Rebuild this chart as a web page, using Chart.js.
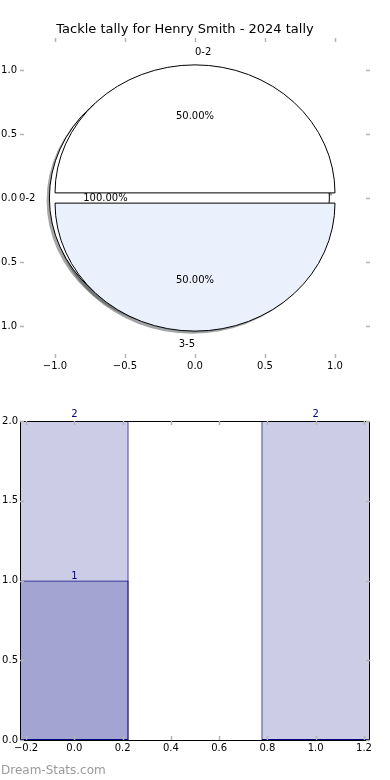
<!DOCTYPE html>
<html>
<head>
<meta charset="utf-8">
<script src="https://cdn.jsdelivr.net/npm/chart.js@4.4.0/dist/chart.umd.min.js"></script>
<style>
  html, body { margin: 0; padding: 0; background: #fff; }
  body { width: 390px; height: 780px; position: relative; overflow: hidden; }
  canvas { position: absolute; left: 0; }
  #pizza { top: 0; }
  #barras { top: 390px; }
  #marca { position: absolute; left: 1px; top: 763px; font: 12px "DejaVu Sans"; color: #9a9a9a; }
</style>
</head>
<body>
<canvas id="pizza" width="390" height="390"></canvas>
<canvas id="barras" width="390" height="390"></canvas>
<div id="marca">Dream-Stats.com</div>
<script>
const titulo = 'Tackle tally for Henry Smith - 2024 tally';

// pizza de trás (100%) e pizza da frente
const fundoLabels = ['0-2'];
const fundoValores = [1];
const fundoCores = ['#ffffff'];
const pizzaLabels = ['0-2', '3-5'];
const pizzaValores = [1, 1];
const pizzaCores = ['#ffffff', '#eaf0fc'];
const pizzaTicks = [-1, -0.5, 0, 0.5, 1];

// barras de baixo
const barrasX = [0, 1];
const barrasTotal = [2, 2];
const barrasPrimeiro = [1, 0];
const barrasTicksX = [-0.2, 0, 0.2, 0.4, 0.6, 0.8, 1.0, 1.2];
const barrasTicksY = [0, 0.5, 1, 1.5, 2];

const larguraBarra = 0.45;
const passoX = 0.2;

Chart.defaults.font.family = '"DejaVu Sans"';
Chart.defaults.font.size = 10;
Chart.defaults.color = '#000';

function formato(v) {
  return (v < 0 ? '\u2212' : '') + Math.abs(v).toFixed(1);
}

// marcas de tick para dentro, nos quatro lados
function marcasInternas(cor) {
  return {
    id: 'marcasInternas',
    afterDatasetsDraw(chart) {
      const { ctx, chartArea: a, scales: { x, y } } = chart;
      ctx.save();
      ctx.strokeStyle = cor;
      ctx.lineWidth = 1.5;
      ctx.beginPath();
      x.ticks.forEach(t => {
        const px = Math.round(x.getPixelForValue(t.value)) + 0.5;
        ctx.moveTo(px, a.top); ctx.lineTo(px, a.top + 4);
        ctx.moveTo(px, a.bottom); ctx.lineTo(px, a.bottom - 4);
      });
      y.ticks.forEach(t => {
        const py = Math.round(y.getPixelForValue(t.value)) + 0.5;
        ctx.moveTo(a.left, py); ctx.lineTo(a.left + 4, py);
        ctx.moveTo(a.right, py); ctx.lineTo(a.right - 4, py);
      });
      ctx.stroke();
      ctx.restore();
    }
  };
}

function montarFatias(valores, labels, cores, explode) {
  const total = valores.reduce((s, v) => s + v, 0);
  let t1 = 0;
  return valores.map((v, i) => {
    const t2 = t1 + v / total * 360;
    const meio = (t1 + t2) / 2 * Math.PI / 180;
    const f = {
      t1, t2, meio,
      ox: explode * Math.cos(meio),
      oy: explode * Math.sin(meio),
      label: labels[i],
      cor: cores[i],
      pct: (v / total * 100).toFixed(2) + '%'
    };
    t1 = t2;
    return f;
  });
}

function caminho(ctx, x, y, f, dx, dy) {
  const cx = x.getPixelForValue(f.ox + dx);
  const cy = y.getPixelForValue(f.oy + dy);
  const rx = x.getPixelForValue(1) - x.getPixelForValue(0);
  const ry = y.getPixelForValue(0) - y.getPixelForValue(1);
  ctx.beginPath();
  if (f.t2 - f.t1 >= 360) {
    ctx.ellipse(cx, cy, rx, ry, 0, 0, Math.PI * 2);
  } else {
    ctx.moveTo(cx, cy);
    ctx.ellipse(cx, cy, rx, ry, 0, -f.t1 * Math.PI / 180, -f.t2 * Math.PI / 180, true);
    ctx.closePath();
  }
}

function sombra(hex) {
  const n = parseInt(hex.slice(1), 16);
  const r = Math.round(((n >> 16) & 255) * 0.3);
  const g = Math.round(((n >> 8) & 255) * 0.3);
  const b = Math.round((n & 255) * 0.3);
  return `rgba(${r},${g},${b},0.5)`;
}

// desenha a pizza (elíptica) usando as escalas x/y do gráfico
const pizzaPlugin = {
  id: 'pizzaNosEixos',
  afterDatasetsDraw(chart) {
    const { ctx, scales: { x, y } } = chart;
    const fatias = [
      ...montarFatias(fundoValores, fundoLabels, fundoCores, 0.04),
      ...montarFatias(pizzaValores, pizzaLabels, pizzaCores, 0.04)
    ];
    ctx.save();
    fatias.forEach(f => {
      caminho(ctx, x, y, f, -0.02, -0.02);
      ctx.fillStyle = sombra(f.cor);
      ctx.fill();
    });
    ctx.lineWidth = 1;
    ctx.strokeStyle = '#000';
    fatias.forEach(f => {
      caminho(ctx, x, y, f, 0, 0);
      ctx.fillStyle = f.cor;
      ctx.fill();
      ctx.stroke();
    });
    ctx.fillStyle = '#000';
    ctx.font = '10px "DejaVu Sans"';
    ctx.textBaseline = 'middle';
    fatias.forEach(f => {
      const xt = f.ox + 1.1 * Math.cos(f.meio);
      const yt = f.oy + 1.1 * Math.sin(f.meio);
      ctx.textAlign = xt > 0 ? 'left' : 'right';
      ctx.fillText(f.label, x.getPixelForValue(xt), y.getPixelForValue(yt));
      ctx.textAlign = 'center';
      ctx.fillText(f.pct, x.getPixelForValue(f.ox + 0.6 * Math.cos(f.meio)), y.getPixelForValue(f.oy + 0.6 * Math.sin(f.meio)));
    });
    ctx.restore();
  }
};

new Chart(document.getElementById('pizza'), {
  type: 'scatter',
  data: { datasets: [{ data: [] }] },
  options: {
    responsive: false,
    animation: false,
    events: [],
    layout: { padding: { top: 0, right: 20, bottom: 0, left: 0 } },
    plugins: {
      legend: { display: false },
      tooltip: { enabled: false },
      title: {
        display: true,
        text: titulo,
        color: '#000',
        font: { size: 13, weight: 'normal' },
        padding: { top: 22.2, bottom: 0.2 }
      }
    },
    scales: {
      x: {
        type: 'linear', min: -1.25, max: 1.25,
        grid: { display: false, drawTicks: false }, border: { display: false },
        afterBuildTicks: s => { s.ticks = pizzaTicks.map(v => ({ value: v })); },
        afterFit: s => { s.height = 32; },
        ticks: { padding: 2, autoSkip: false, maxRotation: 0, callback: formato }
      },
      y: {
        type: 'linear', min: -1.25, max: 1.25,
        grid: { display: false, drawTicks: false }, border: { display: false },
        afterBuildTicks: s => { s.ticks = pizzaTicks.map(v => ({ value: v })); },
        afterFit: s => { s.width = 20; },
        ticks: { padding: 3, autoSkip: false, callback: formato }
      }
    }
  },
  plugins: [pizzaPlugin, marcasInternas('#b4b4b4')]
});

// rótulos com os valores em cima das barras
const rotulosBarras = {
  id: 'rotulosBarras',
  afterDatasetsDraw(chart) {
    const { ctx, scales: { x, y } } = chart;
    ctx.save();
    ctx.fillStyle = '#000080';
    ctx.font = '10px "DejaVu Sans"';
    ctx.textAlign = 'center';
    ctx.textBaseline = 'alphabetic';
    [barrasTotal, barrasPrimeiro].forEach(serie => serie.forEach((v, i) => {
      if (!v) return;
      ctx.fillText(String(v), x.getPixelForValue(barrasX[i]), y.getPixelForValue(v * 1.02) + 2);
    }));
    ctx.restore();
  }
};

const moldura = {
  id: 'moldura',
  afterDatasetsDraw(chart) {
    const { ctx, chartArea: a } = chart;
    ctx.save();
    ctx.strokeStyle = '#000';
    ctx.lineWidth = 1;
    ctx.strokeRect(Math.round(a.left) + 0.5, Math.round(a.top) + 0.5, Math.round(a.right - a.left) - 1, Math.round(a.bottom - a.top));
    ctx.restore();
  }
};

const estiloBarra = {
  backgroundColor: 'rgba(0,0,128,0.2)',
  borderColor: '#000080',
  borderWidth: 1,
  borderSkipped: false,
  grouped: false,
  barPercentage: larguraBarra / passoX,
  categoryPercentage: 1
};

new Chart(document.getElementById('barras'), {
  type: 'bar',
  data: {
    datasets: [
      { ...estiloBarra, data: barrasX.map((v, i) => ({ x: v, y: barrasPrimeiro[i] })), order: 0 },
      { ...estiloBarra, data: barrasX.map((v, i) => ({ x: v, y: barrasTotal[i] })), order: 1 }
    ]
  },
  options: {
    responsive: false,
    animation: false,
    events: [],
    layout: { padding: { top: 31, right: 20, bottom: 0, left: 0 } },
    plugins: { legend: { display: false }, tooltip: { enabled: false } },
    scales: {
      x: {
        type: 'linear', min: -0.225, max: 1.225, offset: false,
        grid: { display: false, drawTicks: false }, border: { display: false },
        afterBuildTicks: s => { s.ticks = barrasTicksX.map(v => ({ value: v })); },
        afterFit: s => { s.height = 40; },
        ticks: { padding: 2, autoSkip: false, maxRotation: 0, callback: formato }
      },
      y: {
        type: 'linear', min: 0, max: 2,
        grid: { display: false, drawTicks: false }, border: { display: false },
        afterBuildTicks: s => { s.ticks = barrasTicksY.map(v => ({ value: v })); },
        afterFit: s => { s.width = 20; },
        ticks: { padding: 2, autoSkip: false, callback: formato }
      }
    }
  },
  plugins: [rotulosBarras, moldura, marcasInternas('#b4b4b4')]
});
</script>
</body>
</html>
